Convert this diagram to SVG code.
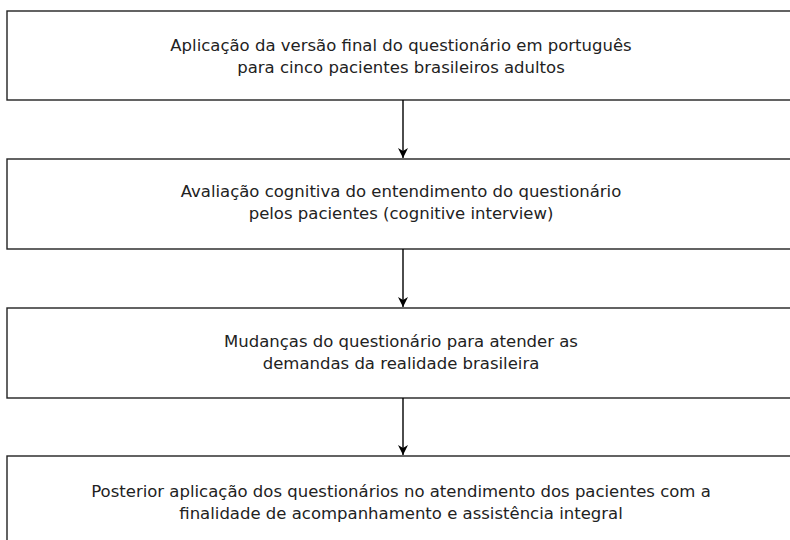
<svg xmlns="http://www.w3.org/2000/svg" width="790" height="540" viewBox="0 0 790 540">
<defs>
<marker id="ah" viewBox="0 0 10 10" refX="10" refY="5" markerWidth="13" markerHeight="10" markerUnits="userSpaceOnUse" orient="auto">
<path d="M0,0 L10,5 L0,10 L3,5 Z" fill="#000"/>
</marker>
<style>
.box{fill:#fff;stroke:#222;stroke-width:1.4}
.t{font-family:"DejaVu Sans",sans-serif;font-size:16.5px;fill:#222;text-anchor:middle}
.c{stroke:#000;stroke-width:1.4;fill:none}
</style>
</defs>
<rect width="790" height="540" fill="#fff"/>
<g id="n1"><rect class="box" x="7" y="11" width="786" height="89"/>
<text class="t" x="401" y="51">Aplicação da versão final do questionário em português</text>
<text class="t" x="401" y="73">para cinco pacientes brasileiros adultos</text></g>
<g id="n2"><rect class="box" x="7" y="159" width="786" height="90"/>
<text class="t" x="401" y="197">Avaliação cognitiva do entendimento do questionário</text>
<text class="t" x="401" y="219">pelos pacientes (cognitive interview)</text></g>
<g id="n3"><rect class="box" x="7" y="308" width="786" height="90"/>
<text class="t" x="401" y="347">Mudanças do questionário para atender as</text>
<text class="t" x="401" y="369">demandas da realidade brasileira</text></g>
<g id="n4"><rect class="box" x="7" y="456" width="786" height="90"/>
<text class="t" x="401" y="497">Posterior aplicação dos questionários no atendimento dos pacientes com a</text>
<text class="t" x="401" y="519">finalidade de acompanhamento e assistência integral</text></g>
<g id="connectors">
<line class="c" x1="403" y1="100" x2="403" y2="158" marker-end="url(#ah)"/>
<line class="c" x1="403" y1="249" x2="403" y2="307" marker-end="url(#ah)"/>
<line class="c" x1="403" y1="398" x2="403" y2="455" marker-end="url(#ah)"/>
</g>
</svg>
